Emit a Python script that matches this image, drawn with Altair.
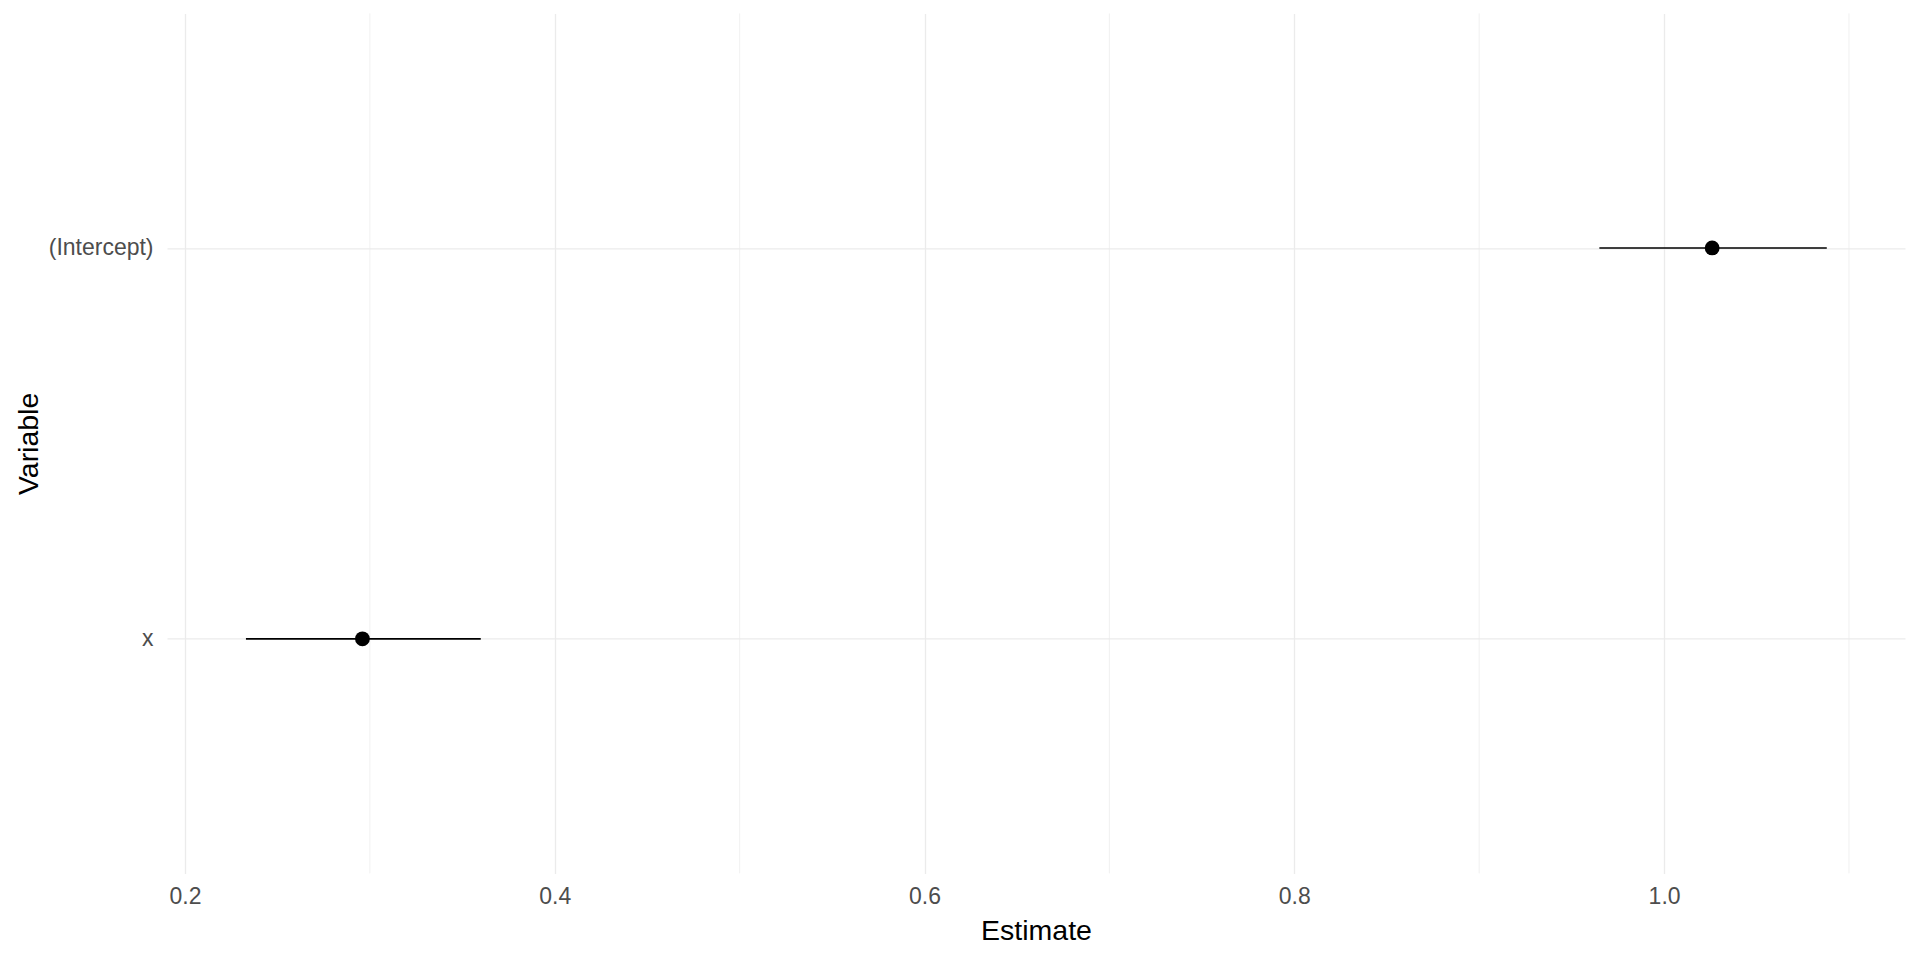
import altair as alt
import pandas as pd

# Data
terms = ["(Intercept)", "x"]
estimate = [1.026, 0.296]
conf_low = [0.965, 0.233]
conf_high = [1.088, 0.360]

major_breaks = [0.2, 0.4, 0.6, 0.8, 1.0]
minor_breaks = [0.3, 0.5, 0.7, 0.9, 1.1]

df = pd.DataFrame({"term": terms, "estimate": estimate,
                   "conf_low": conf_low, "conf_high": conf_high})
minor_df = pd.DataFrame({"v": minor_breaks})

FONT = "Liberation Sans"
GRID = "#ebebeb"

xscale = alt.Scale(domain=[0.1903, 1.1303], nice=False, zero=False)
yscale = alt.Scale(type="point", padding=0.6, domain=terms)

minor = alt.Chart(minor_df).mark_rule(color=GRID, strokeWidth=0.7).encode(
    x=alt.X("v:Q", scale=xscale)
)

xaxis = alt.Axis(values=major_breaks, format=".1f", title="Estimate", grid=True,
                 gridColor=GRID, gridWidth=1.3, domain=False, ticks=False,
                 labelFont=FONT, labelFontSize=23, labelColor="#4d4d4d",
                 labelPadding=12, titleFont=FONT, titleFontSize=28.5,
                 titleFontWeight="normal", titleColor="#000000",
                 titleY=66.4, titleBaseline="alphabetic")
yaxis = alt.Axis(title="Variable", grid=True, gridColor=GRID, gridWidth=1.3,
                 domain=False, ticks=False, labelFont=FONT, labelFontSize=23,
                 labelColor="#4d4d4d", labelPadding=14, titleFont=FONT,
                 titleFontSize=28.5, titleFontWeight="normal",
                 titleColor="#000000", titleX=-130, titleBaseline="alphabetic")

bars = alt.Chart(df).mark_rule(color="black", strokeWidth=1.6).encode(
    x=alt.X("conf_low:Q", scale=xscale, axis=xaxis),
    x2="conf_high:Q",
    y=alt.Y("term:N", scale=yscale, axis=yaxis),
)

points = alt.Chart(df).mark_circle(color="black", opacity=1, size=220).encode(
    x=alt.X("estimate:Q", scale=xscale),
    y=alt.Y("term:N", scale=yscale),
)

chart = alt.layer(minor, bars, points).properties(
    width=1738, height=860,
    autosize=alt.AutoSizeParams(type="none"),
    padding={"left": 159, "top": 5.4, "right": 7, "bottom": 78},
).configure(
    background="white",
    view=alt.ViewConfig(stroke="transparent", strokeWidth=0),
)

chart.save("out.html", embed_options={"renderer": "svg", "actions": False})
